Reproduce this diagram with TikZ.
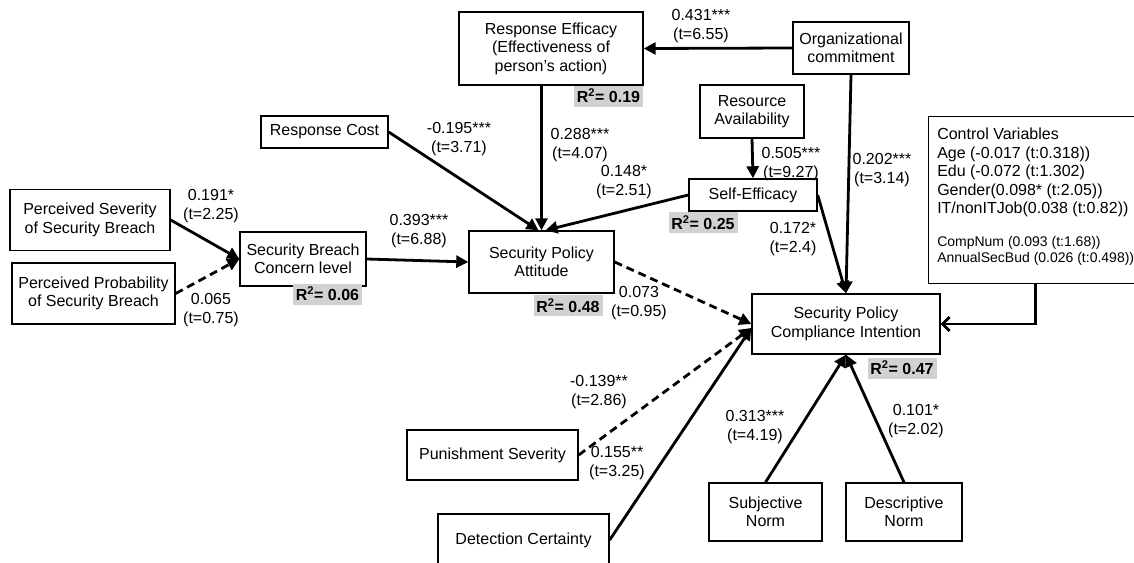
\documentclass[tikz,border=0pt]{standalone}
\usepackage{fontspec}
\setmainfont{Liberation Sans}
\usetikzlibrary{arrows.meta,positioning,calc}

\begin{document}
\begin{tikzpicture}[x=1pt, y=-1pt,
  font=\fontsize{16}{18.5}\selectfont,
  var/.style={draw, line width=1.4pt, align=center, inner sep=2pt},
  rsq/.style={fill=black!18, font=\fontsize{16}{18.5}\selectfont\bfseries, minimum width=69pt, minimum height=21pt, inner sep=1pt},
  coef/.style={align=center, inner sep=1pt},
  effect/.style={-{Triangle[length=12pt,width=12pt]}, line width=2.8pt},
  weak/.style={effect, dash pattern=on 8pt off 5pt},
  ctrl/.style={-{Straight Barb[length=7pt,width=14pt]}, line width=2.8pt}
]
\useasboundingbox (0,0) rectangle (1134,562);
\clip (0,0) rectangle (1134,562);
\node[var, minimum width=160pt, minimum height=61pt] (sev) at (90,220) {Perceived Severity\\of Security Breach};
\node[var, minimum width=163pt, minimum height=61pt] (prob) at (93.5,293.5) {Perceived Probability\\of Security Breach};
\node[var, minimum width=126pt, minimum height=54pt] (concern) at (303,259) {Security Breach\\Concern level};
\node[var, minimum width=145pt, minimum height=62pt] (attitude) at (541.5,262) {Security Policy\\Attitude};
\node[var, minimum width=127pt, minimum height=32pt] (cost) at (324.5,132) {Response Cost};
\node[var, minimum width=184pt, minimum height=73pt] (efficacy) at (551,48.5) {Response Efficacy\\(Effectiveness of\\person’s action)};
\node[var, minimum width=116pt, minimum height=52pt] (orgc) at (851,48) {Organizational\\commitment};
\node[var, minimum width=104pt, minimum height=53pt] (resource) at (752,111.5) {Resource\\Availability};
\node[var, minimum width=128pt, minimum height=32pt] (selfeff) at (753,195) {Self-Efficacy};
\node[var, minimum width=188pt, minimum height=60pt] (intent) at (846,324) {Security Policy\\Compliance Intention};
\node[var, minimum width=171pt, minimum height=50pt] (punish) at (492.5,455) {Punishment Severity};
\node[var, minimum width=171pt, minimum height=52pt] (detect) at (523.5,540) {Detection Certainty};
\node[var, minimum width=113pt, minimum height=58pt] (subj) at (765.5,512) {Subjective\\Norm};
\node[var, minimum width=116pt, minimum height=58pt] (desc) at (904,512) {Descriptive\\Norm};
\node[var, anchor=north west, minimum width=214pt, minimum height=167pt, align=left, inner xsep=4pt] (control) at (928,116)
  {Control Variables\\Age (-0.017 (t:0.318))\\Edu (-0.072 (t:1.302)\\Gender(0.098* (t:2.05))\\IT/nonITJob(0.038 (t:0.82))\\[14pt]
   {\fontsize{14}{15}\selectfont CompNum (0.093 (t:1.68))}\\[-2pt]
   {\fontsize{14}{15}\selectfont AnnualSecBud (0.026 (t:0.498))}\\[-9pt]\mbox{}};

\node[rsq] (rconcern) at (327.5,294) {R\textsuperscript{2}= 0.06};
\node[rsq] (rattitude) at (568,305.5) {R\textsuperscript{2}= 0.48};
\node[rsq] (refficacy) at (608.5,96) {R\textsuperscript{2}= 0.19};
\node[rsq] (rselfeff) at (703,222.5) {R\textsuperscript{2}= 0.25};
\node[rsq] (rintent) at (902,368) {R\textsuperscript{2}= 0.47};

\draw[effect] (sev.east) -- (concern.west);
\draw[weak] (prob.east) -- (concern.west);
\draw[effect] (concern.east) -- (attitude.west);
\draw[effect] (cost.east) -- ([xshift=-3pt]attitude.north);
\draw[effect] (attitude.north |- efficacy.south) -- (attitude.north);
\draw[effect] (selfeff.west) -- ([xshift=4pt]attitude.north);
\draw[effect] (orgc.west) -- (efficacy.east);
\draw[effect] (resource.south) -- (selfeff.north);
\draw[effect] (orgc.south) -- (intent.north);
\draw[effect] (selfeff.east) -- (intent.north);
\draw[weak] (attitude.east) -- (intent.west);
\draw[weak] (punish.east) -- ([yshift=-4pt]intent.west);
\draw[effect] (detect.east) -- ([yshift=-4pt]intent.west);
\draw[effect] (subj.north) -- (intent.south);
\draw[effect] (desc.north) -- (intent.south);
\draw[ctrl] (control.south) |- (intent.east);

\node[coef] (csev) at (211,206) {0.191*\\(t=2.25)};
\node[coef] (cprob) at (211,310) {0.065\\(t=0.75)};
\node[coef] (cconcern) at (419,231) {0.393***\\(t=6.88)};
\node[coef] (ccost) at (459,139) {-0.195***\\(t=3.71)};
\node[coef] (cefficacy) at (580,145) {0.288***\\(t=4.07)};
\node[coef] (cselfeff) at (624,182) {0.148*\\(t=2.51)};
\node[coef] (corgc) at (701,26) {0.431***\\(t=6.55)};
\node[coef] (cresource) at (791,164) {0.505***\\(t=9.27)};
\node[coef] (corgint) at (882,170) {0.202***\\(t=3.14)};
\node[coef] (cselfint) at (793,239) {0.172*\\(t=2.4)};
\node[coef] (cattitude) at (639,303) {0.073\\(t=0.95)};
\node[coef] (cpunish) at (599,392) {-0.139**\\(t=2.86)};
\node[coef] (cdetect) at (617,463) {0.155**\\(t=3.25)};
\node[coef] (csubj) at (755,427) {0.313***\\(t=4.19)};
\node[coef] (cdesc) at (916,421) {0.101*\\(t=2.02)};
\end{tikzpicture}
\end{document}
